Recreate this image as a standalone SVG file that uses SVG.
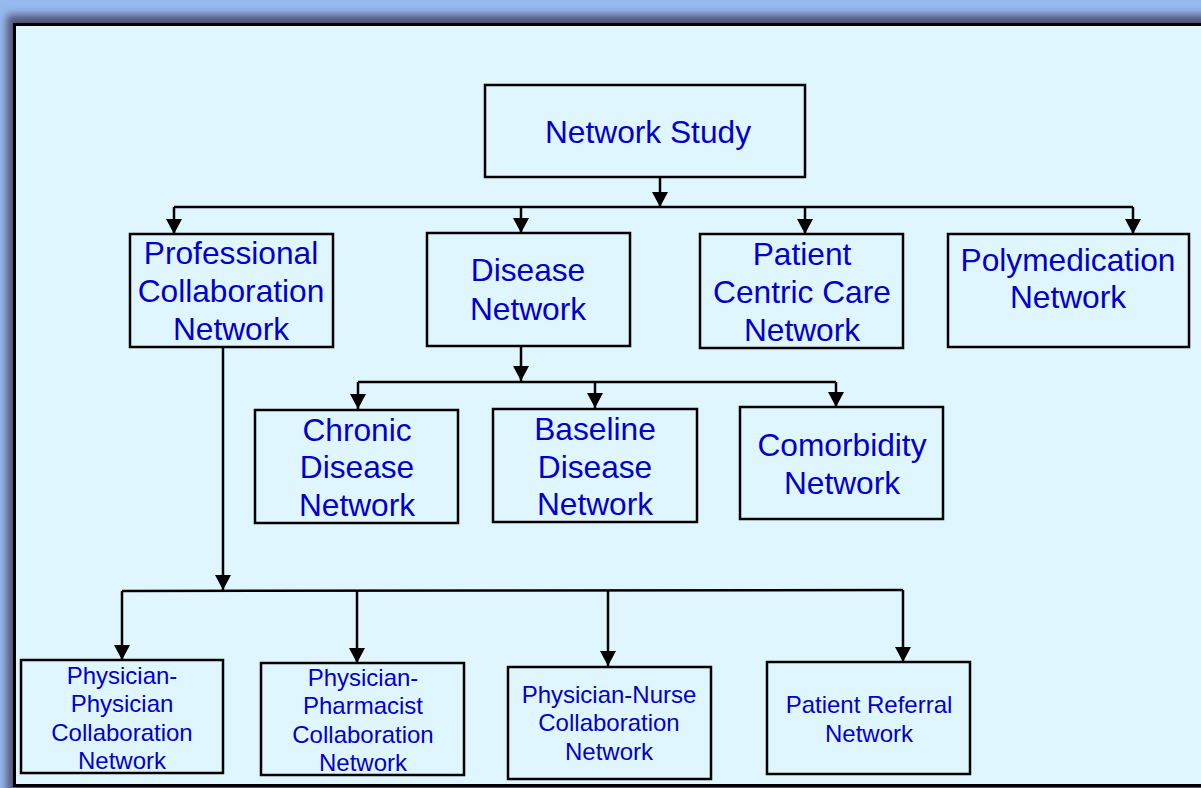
<svg xmlns="http://www.w3.org/2000/svg" width="1201" height="788" viewBox="0 0 1201 788">
<style>
.box{fill:#E0F6FF;stroke:#000;stroke-width:2.5}
.t{font-family:"Liberation Sans",Arial,sans-serif;fill:#0000CC;text-anchor:middle}
.m{font-size:31.7px}
.s{font-size:24px}
.c{fill:none;stroke:#000;stroke-width:2.5}
</style>
<defs>
<filter id="sh" x="-5%" y="-5%" width="110%" height="110%"><feGaussianBlur stdDeviation="4"/></filter>
<marker id="arr" viewBox="0 0 15 16" refX="15" refY="8" markerWidth="15" markerHeight="16" markerUnits="userSpaceOnUse" orient="auto">
<path d="M0,0 L15,8 L0,16 z" fill="#000"/>
</marker>
</defs>
<rect x="0" y="0" width="1201" height="788" fill="#97B8EE"/>
<rect x="7" y="15" width="1210" height="790" fill="#4f5175" filter="url(#sh)"/>
<rect x="14.5" y="24.5" width="1200" height="761" fill="#E0F6FF" stroke="#000" stroke-width="3"/>

<g id="connectors">
<line class="c" x1="660" y1="177" x2="660" y2="207" marker-end="url(#arr)"/>
<line class="c" x1="174" y1="207" x2="1133" y2="207"/>
<line class="c" x1="174" y1="207" x2="174" y2="234" marker-end="url(#arr)"/>
<line class="c" x1="521" y1="207" x2="521" y2="233" marker-end="url(#arr)"/>
<line class="c" x1="805" y1="207" x2="805" y2="234" marker-end="url(#arr)"/>
<line class="c" x1="1133" y1="207" x2="1133" y2="234" marker-end="url(#arr)"/>
<line class="c" x1="521" y1="346" x2="521" y2="381" marker-end="url(#arr)"/>
<line class="c" x1="358" y1="382" x2="836" y2="382"/>
<line class="c" x1="358" y1="382" x2="358" y2="409" marker-end="url(#arr)"/>
<line class="c" x1="595" y1="382" x2="595" y2="408" marker-end="url(#arr)"/>
<line class="c" x1="836" y1="382" x2="836" y2="407" marker-end="url(#arr)"/>
<line class="c" x1="223" y1="347" x2="223" y2="590" marker-end="url(#arr)"/>
<line class="c" x1="122" y1="591" x2="903" y2="590"/>
<line class="c" x1="122" y1="591" x2="122" y2="660" marker-end="url(#arr)"/>
<line class="c" x1="357" y1="591" x2="357" y2="663" marker-end="url(#arr)"/>
<line class="c" x1="608" y1="591" x2="608" y2="666" marker-end="url(#arr)"/>
<line class="c" x1="903" y1="590" x2="903" y2="662" marker-end="url(#arr)"/>
</g>

<g id="network-study">
<rect class="box" x="485" y="85" width="320" height="92"/>
<text class="t m" x="648" y="143">Network Study</text>
</g>
<g id="professional">
<rect class="box" x="130" y="234" width="203" height="113"/>
<text class="t m" x="231" y="264">Professional</text>
<text class="t m" x="231" y="302">Collaboration</text>
<text class="t m" x="231" y="340">Network</text>
</g>
<g id="disease">
<rect class="box" x="427" y="233" width="203" height="113"/>
<text class="t m" x="528" y="281">Disease</text>
<text class="t m" x="528" y="320">Network</text>
</g>
<g id="patient-centric">
<rect class="box" x="700" y="234" width="203" height="114"/>
<text class="t m" x="802" y="265">Patient</text>
<text class="t m" x="802" y="303">Centric Care</text>
<text class="t m" x="802" y="341">Network</text>
</g>
<g id="polymedication">
<rect class="box" x="948" y="234" width="241" height="113"/>
<text class="t m" x="1068" y="271">Polymedication</text>
<text class="t m" x="1068" y="308">Network</text>
</g>
<g id="chronic">
<rect class="box" x="255" y="410" width="203" height="113"/>
<text class="t m" x="357" y="441">Chronic</text>
<text class="t m" x="357" y="478">Disease</text>
<text class="t m" x="357" y="516">Network</text>
</g>
<g id="baseline">
<rect class="box" x="493" y="409" width="204" height="113"/>
<text class="t m" x="595" y="440">Baseline</text>
<text class="t m" x="595" y="478">Disease</text>
<text class="t m" x="595" y="515">Network</text>
</g>
<g id="comorbidity">
<rect class="box" x="740" y="407" width="203" height="112"/>
<text class="t m" x="842" y="456">Comorbidity</text>
<text class="t m" x="842" y="494">Network</text>
</g>
<g id="physician-physician">
<rect class="box" x="21" y="660" width="202" height="113"/>
<text class="t s" x="122" y="684">Physician-</text>
<text class="t s" x="122" y="712">Physician</text>
<text class="t s" x="122" y="741">Collaboration</text>
<text class="t s" x="122" y="769">Network</text>
</g>
<g id="physician-pharmacist">
<rect class="box" x="261" y="663" width="203" height="112"/>
<text class="t s" x="363" y="686">Physician-</text>
<text class="t s" x="363" y="714">Pharmacist</text>
<text class="t s" x="363" y="743">Collaboration</text>
<text class="t s" x="363" y="771">Network</text>
</g>
<g id="physician-nurse">
<rect class="box" x="508" y="667" width="203" height="112"/>
<text class="t s" x="609" y="703">Physician-Nurse</text>
<text class="t s" x="609" y="731">Collaboration</text>
<text class="t s" x="609" y="760">Network</text>
</g>
<g id="patient-referral">
<rect class="box" x="767" y="662" width="203" height="112"/>
<text class="t s" x="869" y="713">Patient Referral</text>
<text class="t s" x="869" y="742">Network</text>
</g>
</svg>
